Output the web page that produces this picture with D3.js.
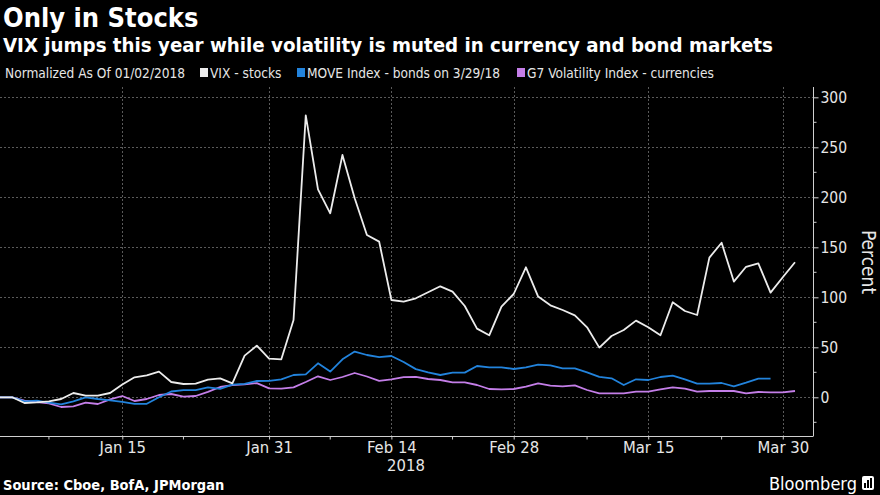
<!DOCTYPE html>
<html><head><meta charset="utf-8">
<script src="https://cdn.jsdelivr.net/npm/d3@7"></script>
<style>
html,body{margin:0;padding:0;background:#000;}
svg{display:block;}
.narrow{font-family:"Liberation Sans Narrow","DejaVu Sans Condensed",sans-serif;}
.cond{font-family:"DejaVu Sans Condensed","DejaVu Sans",sans-serif;font-stretch:condensed;}
</style></head>
<body>
<svg id="chart" width="880" height="495"></svg>
<script>
// ---------- DATA ----------
const dates = [
 "2018-01-01","2018-01-02","2018-01-03","2018-01-04","2018-01-05","2018-01-08","2018-01-09","2018-01-10","2018-01-11","2018-01-12",
 "2018-01-15","2018-01-16","2018-01-17","2018-01-18","2018-01-19","2018-01-22","2018-01-23","2018-01-24","2018-01-25","2018-01-26",
 "2018-01-29","2018-01-30","2018-01-31","2018-02-01","2018-02-02","2018-02-05","2018-02-06","2018-02-07","2018-02-08","2018-02-09",
 "2018-02-12","2018-02-13","2018-02-14","2018-02-15","2018-02-16","2018-02-19","2018-02-20","2018-02-21","2018-02-22","2018-02-23",
 "2018-02-26","2018-02-27","2018-02-28","2018-03-01","2018-03-02","2018-03-05","2018-03-06","2018-03-07","2018-03-08","2018-03-09",
 "2018-03-12","2018-03-13","2018-03-14","2018-03-15","2018-03-16","2018-03-19","2018-03-20","2018-03-21","2018-03-22","2018-03-23",
 "2018-03-26","2018-03-27","2018-03-28","2018-03-29","2018-03-30","2018-04-02"
];
const vixStocks = [
 0,0,-5.7,-5,-4,-1.7,4.3,1.7,1.7,4.3,
 12.7,20,22,25.7,15.3,13.3,13.7,17.7,19,14,
 41.7,51.7,38.7,38,77.3,282,208,184,242.3,199,
 162.3,155.7,97.3,95.7,99,105,111,105.7,91.3,68.7,
 62,90.7,103.3,130,100.7,92,87.3,82,70,49.7,
 61.3,67.3,76.7,70,62,95,86.3,82.3,139.7,154.5,
 115.7,130.5,134,104.7,120,135
];
const moveBonds = [
 0,0,-4,-3.3,-5.3,-7,-4,0,-1.7,-3,
 -4.5,-6.5,-6.5,0,5.8,7.2,7.2,10,8.5,12.7,
 13.5,16.3,16.5,18,22.3,23,34,25.7,38,45.7,
 42.3,40.2,41.3,35.3,28.2,25,22.3,24.7,24.7,31.3,
 30,30,28.3,30,32.7,32,29,29,25,20.5,
 19,12.3,18,17.3,20.3,21.7,18,13.7,13.7,14.3,
 11,14.7,18.7,18.7
];
const g7Currencies = [
 0,0,-3.3,-4.7,-6,-9.7,-9,-5.3,-6.7,-2,
 1.3,-3.7,-1.7,2.3,3.3,0.7,1.3,5.5,10.3,12.2,
 13,14.2,9,8.7,10,15.3,21,17.3,20.3,24.3,
 20.8,16.5,18,20.2,20.5,18.3,17.3,15,15,12.3,
 8.3,8,8.3,10.7,14,11.7,11,12,7.3,4,
 4,4,5.7,5.7,8,10,8.7,5.7,6.3,6.3,
 6.3,4,5.3,5,5,6.3
];
const seriesNames = ["VIX - stocks","MOVE Index - bonds on 3/29/18","G7 Volatility Index - currencies"];
const seriesColors = ["#ececec","#2283dc","#c47ee8"];
const xTickDates = ["2018-01-15","2018-01-31","2018-02-14","2018-02-28","2018-03-15","2018-03-30"];
const xTickLabels = ["Jan 15","Jan 31","Feb 14","Feb 28","Mar 15","Mar 30"];
const xMinorDates = ["2018-01-05","2018-01-22","2018-02-07","2018-02-21","2018-03-08","2018-03-23"];
const yTicks = [0,50,100,150,200,250,300];
const yMinorTicks = [-25,25,75,125,175,225,275];

// ---------- LAYOUT ----------
const svg = d3.select("#chart");
const W = 880, H = 495;
const plot = {left:0, right:813, top:87, bottom:436};

const x = d3.scalePoint().domain(dates).range([0, 795]);
const y = d3.scaleLinear().domain([0,300]).range([397.3, 97.3]);

svg.append("rect").attr("width",W).attr("height",H).attr("fill","#000");

// titles
svg.append("text").attr("class","cond").attr("x",3).attr("y",27)
  .attr("fill","#fff").attr("font-size",27).attr("font-weight","bold").text("Only in Stocks");
svg.append("text").attr("class","cond").attr("x",3).attr("y",52)
  .attr("fill","#fff").attr("font-size",20.3).attr("font-weight","bold")
  .text("VIX jumps this year while volatility is muted in currency and bond markets");

// legend
const lg = svg.append("g").attr("class","narrow").attr("font-size",13.6).attr("fill","#e6e6e6");
lg.append("text").attr("x",5).attr("y",78).text("Normalized As Of 01/02/2018");
const legendPos = [200, 297, 517];
seriesNames.forEach((n,i)=>{
  lg.append("rect").attr("x",legendPos[i]).attr("y",68).attr("width",8).attr("height",9).attr("fill",seriesColors[i]);
  lg.append("text").attr("x",legendPos[i]+10).attr("y",78).text(n);
});

// gridlines
const grid = svg.append("g").attr("stroke","#5a5a5a").attr("stroke-width",1).attr("stroke-dasharray","2,2");
grid.selectAll("line.h").data(yTicks).join("line").attr("class","h")
  .attr("x1",plot.left).attr("x2",plot.right)
  .attr("y1",d=>Math.round(y(d))+0.5).attr("y2",d=>Math.round(y(d))+0.5);
grid.selectAll("line.v").data(xTickDates).join("line").attr("class","v")
  .attr("x1",d=>Math.round(x(d))+0.5).attr("x2",d=>Math.round(x(d))+0.5)
  .attr("y1",plot.top).attr("y2",plot.bottom);

// lines
const line = d3.line().x((d,i)=>x(dates[i])).y(d=>y(d));
const allSeries = [vixStocks, moveBonds, g7Currencies];
[2,1,0].forEach(i=>{
  svg.append("path").datum(allSeries[i]).attr("d",line)
    .attr("fill","none").attr("stroke",seriesColors[i]).attr("stroke-width",1.8)
    .attr("stroke-linejoin","round");
});

// y axis (right)
const yAxis = d3.axisRight(y).tickValues(yTicks).tickSize(5).tickPadding(2);
const ya = svg.append("g").attr("transform",`translate(${plot.right+0.5},0)`).call(yAxis);
ya.select(".domain").remove();
ya.append("line").attr("x1",0).attr("x2",0).attr("y1",plot.top).attr("y2",plot.bottom).attr("stroke","#d0d0d0");
ya.selectAll(".tick line").attr("stroke","#d0d0d0");
ya.selectAll(".tick text").attr("class","narrow").attr("fill","#e6e6e6").attr("font-size",15.5);
ya.selectAll("line.minor").data(yMinorTicks).join("line").attr("class","minor")
  .attr("x1",0).attr("x2",3).attr("y1",d=>y(d)).attr("y2",d=>y(d)).attr("stroke","#d0d0d0");

svg.append("text").attr("class","narrow").attr("transform","translate(862,262) rotate(90)")
  .attr("text-anchor","middle").attr("fill","#e6e6e6").attr("font-size",19).text("Percent");

// x axis
const xa = svg.append("g").attr("transform",`translate(0,${plot.bottom+0.5})`);
xa.append("line").attr("x1",plot.left).attr("x2",plot.right+0.5).attr("stroke","#d0d0d0");
const xAxis = d3.axisBottom(x).tickValues(xTickDates).tickFormat((d,i)=>xTickLabels[i]).tickSize(3).tickPadding(2);
const xg = xa.append("g").call(xAxis);
xg.select(".domain").remove();
xg.selectAll(".tick line").attr("stroke","#d0d0d0");
xg.selectAll(".tick text").attr("class","narrow").attr("fill","#e6e6e6").attr("font-size",16.5);
xa.selectAll("line.minor").data(xMinorDates).join("line").attr("class","minor")
  .attr("x1",d=>x(d)).attr("x2",d=>x(d)).attr("y1",0).attr("y2",3).attr("stroke","#d0d0d0");
svg.append("text").attr("class","narrow").attr("x",406).attr("y",471).attr("text-anchor","middle")
  .attr("fill","#e6e6e6").attr("font-size",16.5).text("2018");

// footer
svg.append("text").attr("class","cond").attr("x",3).attr("y",489.5).attr("fill","#fff")
  .attr("font-size",14.5).attr("font-weight","bold").text("Source: Cboe, BofA, JPMorgan");
svg.append("text").attr("class","narrow").attr("x",857).attr("y",490).attr("text-anchor","end")
  .attr("fill","#fff").attr("font-size",18).text("Bloomberg");
const logo = svg.append("g").attr("transform","translate(862,476)");
logo.append("rect").attr("width",12).attr("height",14).attr("rx",2).attr("fill","#fff");
logo.append("rect").attr("x",2).attr("y",7).attr("width",2).attr("height",5).attr("fill","#000");
logo.append("rect").attr("x",5).attr("y",4).attr("width",2).attr("height",8).attr("fill","#000");
logo.append("rect").attr("x",8).attr("y",2).attr("width",2).attr("height",10).attr("fill","#000");
</script>
</body></html>
